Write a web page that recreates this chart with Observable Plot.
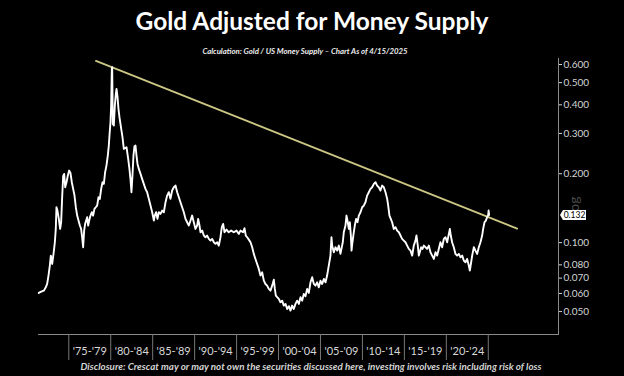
<!DOCTYPE html>
<html>
<head>
<meta charset="utf-8">
<script src="https://cdn.jsdelivr.net/npm/d3@7"></script>
<script src="https://cdn.jsdelivr.net/npm/@observablehq/plot@0.6"></script>
<style>
  html, body { margin: 0; padding: 0; background: #000; }
  #wrap { position: relative; width: 624px; height: 376px; overflow: hidden; background: #000; font-family: Lato, "Open Sans", sans-serif; }
  #title { position: absolute; left: 0; top: 8px; width: 624px; text-align: center; color: #fff; font-weight: bold; font-size: 24.5px; line-height: 25px; }
  #subtitle { position: absolute; left: 0; top: 47px; width: 610px; text-align: center; color: #eee; font-weight: bold; font-style: italic; font-size: 7.8px; line-height: 8px; }
  #chart { position: absolute; left: 0; top: 56px; }
  #disclosure { position: absolute; left: 0; top: 361px; width: 622px; text-align: center; color: #d4d4d4; font-weight: bold; font-style: italic; font-size: 9.8px; line-height: 11px; }
  #lastlabel { position: absolute; left: 563px; width: 23px; height: 10px; background: #fff; color: #000; font-size: 8.5px; line-height: 10px; text-align: center; }
  #lastlabel::before { content: ""; position: absolute; left: -3px; top: 0; border-top: 5px solid transparent; border-bottom: 5px solid transparent; border-right: 3px solid #fff; }
</style>
</head>
<body>
<div id="wrap">
  <div id="title">Gold Adjusted for Money Supply</div>
  <div id="subtitle">Calculation: Gold / US Money Supply – Chart As of 4/15/2025</div>
  <div id="chart"></div>
  <div id="disclosure">Disclosure: Crescat may or may not own the securities discussed here, investing involves risk including risk of loss</div>
</div>
<script>
// Gold / US money supply ratio
const years = [
  1971.43,1971.71,1972.02,1972.26,1972.42,1972.58,1972.74,1972.86,1973.02,1973.18,1973.34,1973.45,1973.53,1973.65,1973.81,1973.97,
  1974.09,1974.21,1974.33,1974.45,1974.57,1974.73,1974.89,1975.04,1975.20,1975.36,1975.52,1975.68,1975.84,1976.00,1976.16,1976.32,
  1976.47,1976.59,1976.71,1976.83,1976.95,1977.07,1977.19,1977.31,1977.43,1977.59,1977.75,1977.90,1978.06,1978.22,1978.38,1978.54,
  1978.70,1978.86,1979.02,1979.18,1979.33,1979.49,1979.65,1979.77,1979.85,1979.97,1980.05,1980.13,1980.17,1980.25,1980.37,1980.49,
  1980.61,1980.69,1980.81,1980.92,1981.04,1981.16,1981.28,1981.40,1981.56,
  1981.88,1982.08,1982.23,1982.35,1982.47,1982.59,1982.71,1982.83,1982.95,1983.07,1983.19,1983.35,1983.55,1983.74,1983.94,1984.14,
  1984.34,1984.54,1984.74,1984.94,1985.14,1985.25,1985.41,1985.57,1985.73,1985.93,1986.13,1986.33,1986.53,1986.72,1986.92,1987.12,
  1987.32,1987.52,1987.72,1987.92,1988.12,1988.31,1988.51,1988.71,1988.91,1989.11,1989.31,1989.51,1989.70,1989.90,1990.10,1990.30,
  1990.42,1990.58,1990.70,1990.90,1991.10,1991.29,1991.49,1991.69,1991.89,1992.09,1992.29,1992.49,1992.69,1992.88,
  1993.08,1993.24,1993.40,1993.56,1993.80,1994.07,1994.35,1994.67,1994.99,1995.27,1995.46,1995.78,1995.94,1996.10,1996.26,1996.46,
  1996.66,1996.86,1997.05,1997.25,1997.45,1997.65,1997.85,1998.05,1998.25,1998.44,1998.64,1998.84,1999.04,1999.24,1999.44,1999.56,
  1999.68,1999.84,2000.03,2000.23,2000.43,2000.63,2000.83,2001.03,2001.23,2001.42,2001.62,2001.82,2002.02,2002.22,2002.42,2002.62,
  2002.82,2003.01,2003.21,2003.41,2003.61,2003.81,2004.01,2004.21,2004.40,
  2004.60,2004.80,2005.00,2005.20,2005.40,2005.60,2005.79,2005.99,2006.19,2006.31,2006.39,2006.59,2006.79,2006.99,2007.19,2007.38,
  2007.50,2007.66,2007.78,2007.98,2008.10,2008.22,2008.38,2008.50,2008.62,2008.70,2008.81,2008.97,2009.09,2009.25,2009.41,2009.57,
  2009.77,2009.97,2010.16,2010.36,2010.56,2010.76,2010.96,2011.16,2011.36,2011.56,2011.75,2011.95,2012.15,2012.35,2012.55,2012.75,
  2012.95,2013.07,2013.22,2013.38,2013.54,2013.74,2013.94,2014.14,2014.34,2014.54,2014.73,2014.93,2015.13,2015.33,2015.53,2015.73,
  2015.93,2016.12,2016.32,2016.44,2016.60,2016.72,2016.84,2017.00,2017.16,2017.32,2017.52,2017.71,2017.91,2018.11,2018.31,2018.51,
  2018.71,2018.91,2019.10,2019.30,2019.50,2019.70,2019.90,2020.10,2020.30,2020.42,2020.53,2020.69,2020.89,2021.09,2021.29,2021.49,
  2021.69,2021.89,2022.08,2022.28,2022.48,2022.68,2022.80,2022.96,2023.08,2023.28,2023.47,2023.67,2023.87,2024.07,2024.27,2024.39,
  2024.55,2024.71,2024.86,2024.98,2025.04,2025.10
];
const ratio = [
  0.0603,0.0611,0.0617,0.0638,0.0660,0.0718,0.0794,0.0878,0.0807,0.0893,0.1004,0.1148,0.1428,0.1381,0.1270,0.1148,
  0.1228,0.1579,0.1951,0.1997,0.1746,0.1836,0.1964,0.2065,0.2017,0.1836,0.1717,0.1606,0.1428,0.1313,0.1249,0.1188,
  0.1148,0.1056,0.0955,0.1129,0.1208,0.1249,0.1291,0.1188,0.1249,0.1313,0.1358,0.1313,0.1404,0.1428,0.1452,0.1579,
  0.1553,0.1717,0.1836,0.1806,0.2031,0.2171,0.2401,0.2656,0.2937,0.3358,0.3971,0.5742,0.5839,0.3302,0.3248,0.3971,
  0.4466,0.4696,0.4319,0.3841,0.3531,0.3302,0.3088,0.2888,0.2568,
  0.2611,0.2322,0.2100,0.1899,0.1661,0.1964,0.2401,0.2638,0.2656,0.2401,0.2208,0.2100,0.1997,0.1899,0.1806,0.1717,
  0.1661,0.1553,0.1452,0.1358,0.1249,0.1313,0.1358,0.1270,0.1358,0.1335,0.1381,0.1358,0.1502,0.1606,0.1661,0.1553,
  0.1689,0.1746,0.1776,0.1661,0.1579,0.1502,0.1428,0.1358,0.1270,0.1228,0.1188,0.1249,0.1313,0.1228,0.1148,0.1188,
  0.1270,0.1188,0.1110,0.1129,0.1074,0.1056,0.1074,0.1038,0.1021,0.1038,0.1004,0.0988,0.1004,0.0971,
  0.1056,0.1168,0.1208,0.1110,0.1140,0.1110,0.1129,0.1110,0.1129,0.1092,0.1129,0.1110,0.1156,0.1074,0.1056,0.1031,
  0.1004,0.0955,0.0893,0.0849,0.0807,0.0768,0.0718,0.0742,0.0682,0.0660,0.0649,0.0628,0.0617,0.0649,0.0689,0.0628,
  0.0587,0.0578,0.0568,0.0549,0.0558,0.0531,0.0540,0.0513,0.0528,0.0505,0.0531,0.0513,0.0540,0.0558,0.0540,0.0578,
  0.0558,0.0597,0.0583,0.0628,0.0603,0.0671,0.0706,0.0660,0.0649,
  0.0671,0.0638,0.0682,0.0660,0.0694,0.0671,0.0718,0.0794,0.0878,0.1056,0.0971,0.0908,0.0955,0.0923,0.0971,0.0893,
  0.0939,0.1004,0.1110,0.1188,0.1313,0.1249,0.1148,0.1228,0.1074,0.0923,0.1004,0.1110,0.1188,0.1270,0.1228,0.1313,
  0.1358,0.1428,0.1452,0.1502,0.1606,0.1661,0.1717,0.1746,0.1806,0.1836,0.1776,0.1746,0.1689,0.1776,0.1746,0.1661,
  0.1553,0.1452,0.1313,0.1270,0.1228,0.1148,0.1168,0.1129,0.1110,0.1074,0.1038,0.1021,0.1004,0.0971,0.0939,0.0923,
  0.0878,0.0971,0.1021,0.1074,0.0971,0.0878,0.0908,0.0955,0.0939,0.0971,0.0955,0.0939,0.0971,0.0908,0.0878,0.0849,
  0.0908,0.0878,0.0939,0.1004,0.0955,0.1038,0.1056,0.1004,0.1092,0.1148,0.1074,0.1004,0.0955,0.0893,0.0878,0.0893,
  0.0863,0.0878,0.0835,0.0821,0.0849,0.0794,0.0755,0.0821,0.0878,0.0955,0.0923,0.0893,0.0955,0.1004,0.1074,0.1148,
  0.1228,0.1249,0.1291,0.1313,0.1381,0.1320
];

// Descending trend line drawn on the chart (log scale)
const trendYears = [1978.24, 2028.44];
const trendValues = [0.6226, 0.1152];

// Axis ticks and labels
const yTicks = [0.05, 0.06, 0.07, 0.08, 0.1, 0.2, 0.3, 0.4, 0.5, 0.6];
const periodStarts = [1975, 1980, 1985, 1990, 1995, 2000, 2005, 2010, 2015, 2020, 2025];
const periodMids = [1977.5, 1982.5, 1987.5, 1992.5, 1997.5, 2002.5, 2007.5, 2012.5, 2017.5, 2022.5];
const periodLabels = ["'75-'79", "'80-'84", "'85-'89", "'90-'94", "'95-'99", "'00-'04", "'05-'09", "'10-'14", "'15-'19", "'20-'24"];
const lastValue = 0.132;

const series = years.map((y, i) => ({year: y, v: ratio[i]}));
const trend = trendYears.map((y, i) => ({year: y, v: trendValues[i]}));

const chart = Plot.plot({
  width: 624,
  height: 304,
  marginTop: 2,
  marginBottom: 26,
  marginLeft: 38,
  marginRight: 66,
  style: {background: "transparent", color: "#d4d4d4", fontFamily: "Lato, 'Open Sans', sans-serif"},
  x: {domain: [1971.39, 2033.37], label: null},
  y: {type: "log", domain: [0.0397, 0.6374], label: null},
  marks: [
    Plot.frame({anchor: "bottom", stroke: "#8a8a8a"}),
    Plot.frame({anchor: "right", stroke: "#8a8a8a"}),
    Plot.axisY({anchor: "right", ticks: yTicks, tickFormat: d3.format(".3f"), tickSize: 3, tickPadding: 2, fontSize: 10, label: null}),
    Plot.axisX({ticks: periodStarts, tickSize: 26, tickFormat: () => "", stroke: "#777", label: null}),
    Plot.text(periodLabels, {x: periodMids, frameAnchor: "bottom", dy: 20, fill: "#d8d8d8", fontSize: 11}),
    Plot.text(["Log"], {frameAnchor: "right", dx: 16, rotate: -90, fill: "#4a4a4a", fontSize: 14}),
    Plot.line(trend, {x: "year", y: "v", stroke: "#cdc785", strokeWidth: 1.8}),
    Plot.line(series, {x: "year", y: "v", stroke: "#fff", strokeWidth: 1.9})
  ]
});
document.getElementById("chart").appendChild(chart);

const lbl = document.createElement("div");
lbl.id = "lastlabel";
lbl.textContent = d3.format(".3f")(lastValue);
lbl.style.top = (56 + chart.scale("y").apply(lastValue) - 5) + "px";
document.getElementById("wrap").appendChild(lbl);
</script>
</body>
</html>
